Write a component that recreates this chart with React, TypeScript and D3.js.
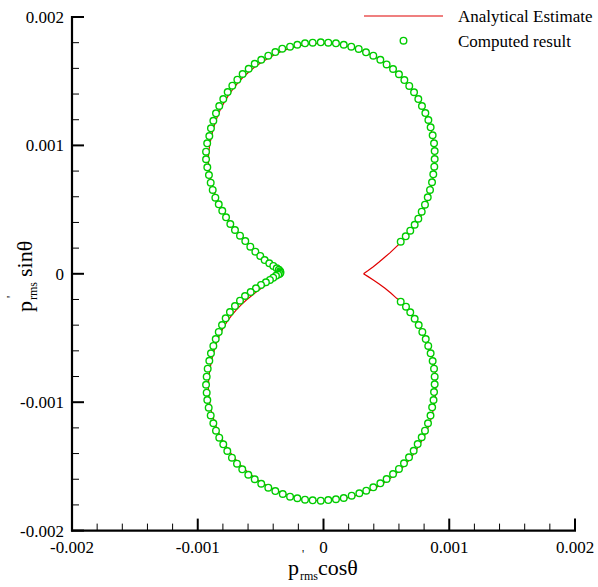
import React from "react";
import * as d3 from "d3";

// values in units of 1e-3
const analyticalX = [0.318,0.355,0.396,0.440,0.482,0.530,0.580,0.622,0.662,0.700,0.735,0.765,0.792,0.815,0.836,0.852,0.866,0.875,0.880,0.882,0.881,0.877,0.866,0.851,0.833,0.809,0.782,0.753,0.719,0.681,0.642,0.599,0.552,0.501,0.451,0.395,0.337,0.279,0.220,0.160,0.099,0.038,-0.022,-0.086,-0.147,-0.207,-0.264,-0.324,-0.378,-0.433,-0.488,-0.539,-0.587,-0.633,-0.675,-0.714,-0.750,-0.784,-0.815,-0.840,-0.861,-0.880,-0.893,-0.905,-0.913,-0.916,-0.913,-0.903,-0.890,-0.874,-0.853,-0.826,-0.798,-0.768,-0.734,-0.697,-0.657,-0.615,-0.575,-0.535,-0.495,-0.460,-0.424,-0.392,-0.362,-0.340,-0.336,-0.352,-0.380,-0.411,-0.447,-0.485,-0.525,-0.567,-0.611,-0.653,-0.695,-0.735,-0.770,-0.800,-0.826,-0.848,-0.864,-0.881,-0.894,-0.905,-0.912,-0.916,-0.914,-0.908,-0.898,-0.883,-0.864,-0.843,-0.817,-0.786,-0.754,-0.717,-0.678,-0.637,-0.590,-0.541,-0.490,-0.435,-0.380,-0.322,-0.264,-0.206,-0.146,-0.085,-0.022,0.038,0.099,0.162,0.226,0.288,0.344,0.401,0.458,0.509,0.561,0.609,0.650,0.691,0.728,0.761,0.793,0.819,0.843,0.861,0.876,0.886,0.892,0.894,0.891,0.886,0.875,0.858,0.839,0.818,0.790,0.760,0.728,0.692,0.656,0.620,0.582,0.535,0.489,0.440,0.396,0.355,0.318];
const analyticalY = [0.000,0.025,0.055,0.090,0.125,0.165,0.212,0.250,0.292,0.338,0.383,0.430,0.486,0.538,0.596,0.653,0.713,0.775,0.834,0.894,0.956,1.016,1.078,1.140,1.198,1.252,1.307,1.361,1.413,1.462,1.508,1.552,1.593,1.630,1.665,1.697,1.723,1.748,1.766,1.780,1.790,1.795,1.796,1.792,1.785,1.772,1.756,1.738,1.712,1.682,1.650,1.617,1.578,1.537,1.494,1.447,1.398,1.345,1.291,1.235,1.178,1.119,1.060,1.004,0.945,0.890,0.829,0.769,0.710,0.653,0.593,0.541,0.491,0.440,0.390,0.343,0.298,0.256,0.214,0.175,0.140,0.108,0.080,0.055,0.030,0.010,-0.003,-0.018,-0.037,-0.059,-0.082,-0.107,-0.135,-0.167,-0.202,-0.240,-0.283,-0.329,-0.376,-0.425,-0.477,-0.530,-0.581,-0.637,-0.694,-0.754,-0.814,-0.874,-0.932,-0.988,-1.046,-1.104,-1.162,-1.218,-1.271,-1.323,-1.374,-1.424,-1.470,-1.513,-1.555,-1.592,-1.627,-1.658,-1.685,-1.709,-1.730,-1.745,-1.757,-1.764,-1.767,-1.764,-1.759,-1.751,-1.736,-1.718,-1.698,-1.673,-1.643,-1.609,-1.570,-1.530,-1.486,-1.439,-1.388,-1.335,-1.281,-1.229,-1.170,-1.108,-1.045,-0.986,-0.924,-0.862,-0.801,-0.739,-0.679,-0.619,-0.562,-0.508,-0.453,-0.399,-0.350,-0.300,-0.256,-0.220,-0.191,-0.150,-0.113,-0.078,-0.048,-0.022,0.000];

const computedX = [0.614,0.654,0.690,0.725,0.754,0.781,0.807,0.829,0.847,0.863,0.873,0.881,0.884,0.884,0.879,0.868,0.852,0.834,0.810,0.783,0.754,0.720,0.682,0.643,0.600,0.553,0.502,0.452,0.396,0.338,0.280,0.221,0.161,0.099,0.038,-0.022,-0.086,-0.147,-0.208,-0.266,-0.328,-0.383,-0.439,-0.495,-0.547,-0.595,-0.643,-0.685,-0.725,-0.762,-0.797,-0.829,-0.855,-0.876,-0.895,-0.908,-0.925,-0.934,-0.934,-0.924,-0.911,-0.897,-0.881,-0.860,-0.833,-0.805,-0.775,-0.741,-0.704,-0.664,-0.622,-0.582,-0.542,-0.503,-0.468,-0.431,-0.399,-0.372,-0.355,-0.345,-0.342,-0.348,-0.360,-0.378,-0.400,-0.426,-0.458,-0.497,-0.537,-0.579,-0.624,-0.664,-0.704,-0.744,-0.778,-0.807,-0.833,-0.857,-0.876,-0.895,-0.908,-0.921,-0.929,-0.934,-0.929,-0.924,-0.913,-0.897,-0.876,-0.855,-0.829,-0.797,-0.765,-0.728,-0.688,-0.646,-0.598,-0.547,-0.495,-0.439,-0.383,-0.324,-0.266,-0.208,-0.147,-0.086,-0.022,0.038,0.099,0.161,0.224,0.285,0.340,0.396,0.452,0.502,0.553,0.600,0.640,0.680,0.717,0.749,0.781,0.807,0.831,0.851,0.864,0.875,0.879,0.884,0.884,0.879,0.868,0.852,0.833,0.813,0.786,0.757,0.725,0.690,0.656,0.614];
const computedY = [0.250,0.292,0.336,0.382,0.429,0.484,0.538,0.596,0.653,0.713,0.775,0.834,0.894,0.956,1.016,1.079,1.141,1.198,1.252,1.307,1.361,1.414,1.463,1.509,1.554,1.595,1.631,1.667,1.699,1.725,1.751,1.769,1.784,1.795,1.800,1.803,1.800,1.795,1.784,1.769,1.753,1.727,1.699,1.667,1.636,1.597,1.556,1.512,1.465,1.416,1.361,1.307,1.250,1.192,1.133,1.073,1.016,0.951,0.892,0.829,0.769,0.710,0.653,0.593,0.541,0.491,0.440,0.388,0.341,0.297,0.255,0.211,0.172,0.139,0.107,0.082,0.061,0.043,0.031,0.020,0.010,0.001,-0.006,-0.016,-0.030,-0.048,-0.066,-0.087,-0.113,-0.142,-0.173,-0.209,-0.251,-0.298,-0.347,-0.399,-0.453,-0.508,-0.562,-0.619,-0.677,-0.739,-0.801,-0.864,-0.926,-0.983,-1.043,-1.103,-1.164,-1.222,-1.276,-1.328,-1.380,-1.432,-1.479,-1.523,-1.565,-1.600,-1.635,-1.666,-1.692,-1.715,-1.736,-1.748,-1.759,-1.764,-1.767,-1.762,-1.756,-1.746,-1.728,-1.709,-1.689,-1.663,-1.632,-1.598,-1.559,-1.520,-1.476,-1.429,-1.378,-1.326,-1.273,-1.222,-1.164,-1.104,-1.040,-0.983,-0.921,-0.861,-0.801,-0.739,-0.679,-0.619,-0.562,-0.508,-0.453,-0.399,-0.350,-0.300,-0.256,-0.217];

const majorTicks = [-2, -1, 0, 1, 2];
const tickLabels = ["-0.002", "-0.001", "0", "0.001", "0.002"];
const legendLabels = ["Analytical Estimate", "Computed result"];

const FONT = "'Liberation Serif', 'Times New Roman', serif";
const RED = "#e00000";
const GREEN = "#00cc00";

export default function App() {
  const x = d3.scaleLinear().domain([-2, 2]).range([72, 575]);
  const y = d3.scaleLinear().domain([-2, 2]).range([530.6, 17]);
  const minor = x.ticks(20).filter((t) => !majorTicks.some((m) => Math.abs(m - t) < 1e-9));

  const analytical = analyticalX.map((v, i) => [v, analyticalY[i]] as [number, number]);
  const computed = computedX.map((v, i) => [v, computedY[i]] as [number, number]);
  const line = d3
    .line<[number, number]>()
    .x((d) => x(d[0]))
    .y((d) => y(d[1]));

  const x0 = x(-2);
  const yb = y(-2);

  return (
    <svg
      width={598}
      height={587}
      style={{ position: "absolute", left: 0, top: 0, background: "#fff" }}
      fontFamily={FONT}
    >
      <rect width={598} height={587} fill="#fff" />
      {/* data */}
      <path d={line(analytical) || ""} fill="none" stroke={RED} strokeWidth={1.2} />
      {computed.map((d, i) => (
        <circle key={i} cx={x(d[0])} cy={y(d[1])} r={3.3} fill="#fff" stroke={GREEN} strokeWidth={1.4} />
      ))}

      {/* y axis */}
      <line x1={x0} x2={x0} y1={y(2) - 1} y2={yb + 1} stroke="#000" strokeWidth={2.2} />
      {majorTicks.map((t) => (
        <line key={"ym" + t} x1={x0} x2={x0 + 12} y1={y(t)} y2={y(t)} stroke="#000" strokeWidth={2} />
      ))}
      {minor.map((t) => (
        <line key={"yn" + t} x1={x0} x2={x0 + 7} y1={y(t)} y2={y(t)} stroke="#000" strokeWidth={1} />
      ))}
      {majorTicks.map((t, i) => (
        <text key={"yl" + t} x={x0 - 8} y={y(t)} dy="0.35em" textAnchor="end" fontSize={17} fill="#000">
          {tickLabels[i]}
        </text>
      ))}

      {/* x axis */}
      <line x1={x0 - 1} x2={x(2) + 1} y1={yb} y2={yb} stroke="#000" strokeWidth={2.2} />
      {majorTicks.map((t) => (
        <line key={"xm" + t} x1={x(t)} x2={x(t)} y1={yb} y2={yb - 12} stroke="#000" strokeWidth={2} />
      ))}
      {minor.map((t) => (
        <line key={"xn" + t} x1={x(t)} x2={x(t)} y1={yb} y2={yb - 7} stroke="#000" strokeWidth={1} />
      ))}
      {majorTicks.map((t, i) => (
        <text key={"xl" + t} x={x(t)} y={yb + 22} textAnchor="middle" fontSize={17} fill="#000">
          {tickLabels[i]}
        </text>
      ))}

      {/* x title */}
      <g transform="translate(288,575)" fill="#000">
        <text x={0} y={0} fontSize={22}>p</text>
        <text x={14} y={-17} fontSize={12}>'</text>
        <text x={12} y={5} fontSize={12}>rms</text>
        <text x={30} y={0} fontSize={22}>cosθ</text>
      </g>
      {/* y title */}
      <g transform="translate(32,312) rotate(-90)" fill="#000">
        <text x={0} y={0} fontSize={22}>p</text>
        <text x={14} y={-17} fontSize={12}>'</text>
        <text x={12} y={5} fontSize={12}>rms</text>
        <text x={35} y={0} fontSize={22}>sinθ</text>
      </g>

      {/* legend */}
      <line x1={364} x2={443} y1={16} y2={16} stroke={RED} strokeWidth={1.2} />
      <text x={458} y={22} fontSize={17} fill="#000">{legendLabels[0]}</text>
      <circle cx={403.5} cy={40.7} r={3.3} fill="#fff" stroke={GREEN} strokeWidth={1.4} />
      <text x={458} y={47} fontSize={17} fill="#000">{legendLabels[1]}</text>
    </svg>
  );
}
